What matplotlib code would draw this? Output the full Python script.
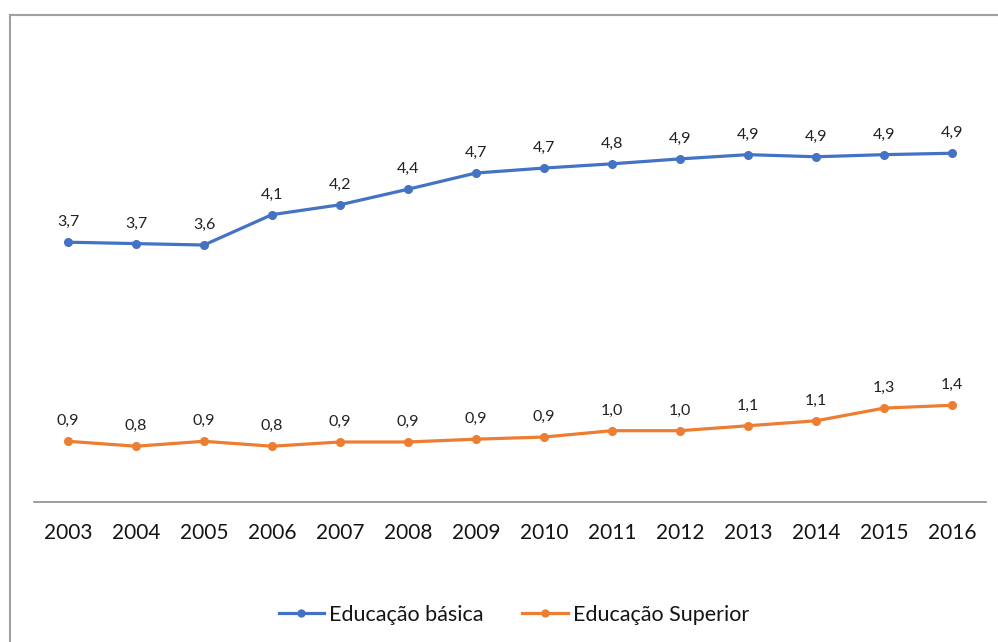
import matplotlib
matplotlib.use("Agg")
import matplotlib.pyplot as plt
from matplotlib.lines import Line2D

years = ["2003", "2004", "2005", "2006", "2007", "2008", "2009",
         "2010", "2011", "2012", "2013", "2014", "2015", "2016"]
basica = [3.68, 3.66, 3.64, 4.07, 4.21, 4.43, 4.66, 4.73, 4.79, 4.86, 4.92, 4.89, 4.92, 4.94]
superior = [0.86, 0.79, 0.86, 0.79, 0.85, 0.85, 0.89, 0.92, 1.01, 1.01, 1.08, 1.15, 1.33, 1.37]
labels_basica = ["3,7", "3,7", "3,6", "4,1", "4,2", "4,4", "4,7", "4,7", "4,8", "4,9", "4,9", "4,9", "4,9", "4,9"]
labels_superior = ["0,9", "0,8", "0,9", "0,8", "0,9", "0,9", "0,9", "0,9", "1,0", "1,0", "1,1", "1,1", "1,3", "1,4"]
series_names = ["Educação básica", "Educação Superior"]

BLUE = "#4472C4"
ORANGE = "#ED7D31"
FONT = ["Lato", "DejaVu Sans"]
plt.rcParams['font.family'] = FONT

W, H = 998, 642
fig = plt.figure(figsize=(W / 100, H / 100), dpi=100)
ax = fig.add_axes([34 / W, 140 / H, 952 / W, 423.6 / H])

x = list(range(len(years)))
for vals, labs, col in [(basica, labels_basica, BLUE), (superior, labels_superior, ORANGE)]:
    ax.plot(x, vals, color=col, lw=2.3, marker='o', ms=5.5, solid_capstyle='round')
    for xi, v, lab in zip(x, vals, labs):
        ax.annotate(lab, (xi, v), xytext=(0, 11.5), textcoords='offset points',
                    ha='center', va='baseline', fontsize=11.5, color='#222222')

ax.set_xlim(-0.5, len(years) - 0.5)
ax.set_ylim(0, 6)
ax.set_xticks(x)
ax.set_xticklabels(years, fontsize=15, color='#141414')
ax.tick_params(axis='x', length=0, pad=15)
ax.set_yticks([])
for s in ['top', 'right', 'left']:
    ax.spines[s].set_visible(False)
ax.spines['bottom'].set_color('#8c8c8c')
ax.spines['bottom'].set_linewidth(1.2)

# chart border (top and left visible)
fig.add_artist(Line2D([9.5 / W, 997 / W], [1 - 14.5 / H, 1 - 14.5 / H], color='#a0a0a0', lw=1.5))
fig.add_artist(Line2D([9.5 / W, 9.5 / W], [1 - 14.5 / H, 0], color='#a0a0a0', lw=1.5))

handles = [Line2D([], [], color=BLUE, lw=2.3, marker='o', ms=5),
           Line2D([], [], color=ORANGE, lw=2.3, marker='o', ms=5)]
fig.legend(handles, series_names, loc='center', bbox_to_anchor=(0.515, 1 - 615 / H),
           ncol=2, frameon=False, fontsize=15.5, handlelength=2.1, handletextpad=0.25,
           columnspacing=1.8, labelcolor='#141414')

fig.savefig("out.png", dpi=100, facecolor='white')
